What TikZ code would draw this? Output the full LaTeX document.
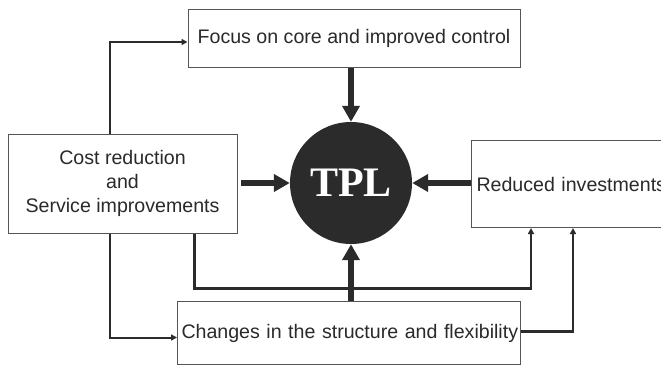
\documentclass[tikz,border=0pt]{standalone}
\usepackage{fontspec}
\setmainfont{Liberation Sans}
\newfontfamily\tplfont{Liberation Serif}
\usetikzlibrary{arrows.meta}
\definecolor{inkc}{HTML}{2B2B2B}
\definecolor{edgec}{HTML}{555555}
\definecolor{txtc}{HTML}{2A2A2A}
\tikzset{
  box/.style={draw=edgec, line width=1pt, fill=white, text=txtc, font=\fontsize{19.6}{24}\selectfont, inner sep=0pt},
  bigarrow/.style={draw=inkc, line width=5.5pt, -{Triangle[length=16pt,width=17pt]}},
  thinarrow/.style={draw=inkc, line width=2pt, -{Triangle[length=6pt,width=6pt]}}
}
\begin{document}
\begin{tikzpicture}[x=1pt,y=-1pt]
\useasboundingbox (0,0) rectangle (661,365);
\clip (0,0) rectangle (661,365);
\node[box, minimum width=332pt, minimum height=58pt] (focus) at (354,38) {Focus on core and improved control};
\node[box, minimum width=229pt, minimum height=99pt, align=center] (cost) at (122.5,183.5) {Cost reduction\\and\\Service improvements};
\node[box, anchor=north west, minimum height=87pt, text width=222pt, inner xsep=5pt, align=left] (red) at (471,140) {\mbox{Reduced investments}};
\node[box, anchor=north west, minimum height=63pt, text width=335pt, inner xsep=4pt, align=left] (chg) at (177,301) {\mbox{Changes in the structure and flexibility}};
\node[circle, fill=inkc, minimum size=122pt, inner sep=0pt, text=white, font=\tplfont\bfseries\fontsize{42}{42}\selectfont] (tpl) at (351,183) {TPL};
% thick arrows
\draw[bigarrow] (tpl.north |- focus.south) -- (tpl.north);
\draw[bigarrow, shorten <=3pt] (cost.east |- tpl.west) -- (tpl.west);
\draw[bigarrow] (red.west |- tpl.east) -- (tpl.east);
\draw[bigarrow] (tpl.south |- chg.north) -- (tpl.south);
% thin connectors
\draw[thinarrow] ([xshift=102pt]cost.north west) |- ([yshift=-4pt]focus.west);
\draw[thinarrow] ([xshift=102pt]cost.south west) |- ([yshift=-4.5pt]chg.west);
\coordinate (bend) at ([xshift=187pt,yshift=-55pt]cost.south west);
\draw[thinarrow, line width=2.4pt] ([xshift=187pt]cost.south west) -- (bend) -| ([xshift=60pt]red.south west);
\draw[thinarrow, line width=2.4pt] ([yshift=1.5pt]chg.east) -| ([xshift=102pt]red.south west);
\end{tikzpicture}
\end{document}
